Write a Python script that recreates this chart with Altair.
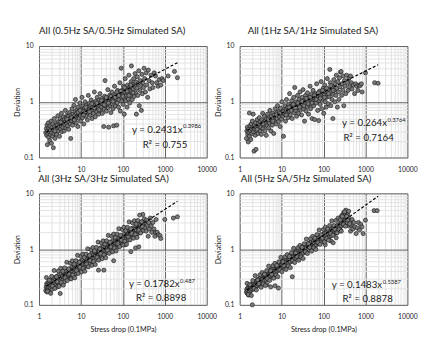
import altair as alt
import pandas as pd

FONT = "Lato"

TITLES = [
    "All (0.5Hz SA/0.5Hz Simulated SA)",
    "All (1Hz SA/1Hz Simulated SA)",
    "All (3Hz SA/3Hz Simulated SA)",
    "All (5Hz SA/5Hz Simulated SA)",
]
EQ_MAIN = ["y = 0.2431x", "y = 0.264x", "y = 0.1782x", "y = 0.1483x"]
EQ_EXP = ["0.3986", "0.3764", "0.487", "0.5387"]
R2_TEXT = ["R\u00b2 = 0.755", "R\u00b2 = 0.7164", "R\u00b2 = 0.8898", "R\u00b2 = 0.8878"]
COEF_A = [0.2431, 0.264, 0.1782, 0.1483]
COEF_B = [0.3986, 0.3764, 0.487, 0.5387]
FIT_X = [1.5, 2000]
X_TITLE = "Stress drop (0.1MPa)"
Y_TITLE = "Deviation"

# scatter readings (stress drop, deviation)
PTS_05HZ = [
    (1.45,0.28),(1.5,0.33),(1.52,0.25),(1.55,0.38),(1.58,0.17),(1.6,0.3),(1.63,0.27),(1.66,0.42),(1.7,0.23),(1.72,0.34),
    (1.75,0.29),(1.8,0.2),(1.83,0.37),(1.86,0.26),(1.9,0.31),(1.95,0.45),(1.98,0.18),(2.02,0.28),(2.06,0.35),(2.1,0.24),
    (2.15,0.4),(2.2,0.15),(2.22,0.31),(2.27,0.27),(2.32,0.5),(2.36,0.36),(2.42,0.22),(2.47,0.33),(2.52,0.29),(2.58,0.42),
    (2.63,0.26),(2.7,0.38),(2.75,0.32),(2.82,0.56),(2.88,0.3),(2.95,0.44),(3.0,0.35),(3.08,0.24),(3.15,0.4),(3.2,0.5),
    (3.28,0.33),(3.35,0.37),(3.42,0.62),(3.5,0.29),(3.58,0.46),(3.65,0.4),(3.72,0.35),(3.8,0.53),(3.9,0.42),(3.98,0.3),
    (4.05,0.48),(4.15,0.38),(4.25,0.7),(4.32,0.44),(4.4,0.34),(4.5,0.52),(4.6,0.41),(4.7,0.58),(4.8,0.37),(4.9,0.47),
    (5.0,0.55),(5.1,0.32),(5.2,0.44),(5.35,0.64),(5.45,0.5),(5.6,0.4),(5.7,0.22),(5.8,0.58),(5.95,0.46),(6.1,0.75),
    (6.2,0.53),(6.35,0.38),(6.5,0.6),(6.65,0.49),(6.8,0.86),(6.95,0.44),(7.1,0.56),(7.25,0.66),(7.4,1.1),(7.55,0.51),
    (7.7,0.42),(7.9,0.62),(8.05,0.72),(8.2,0.55),(8.4,0.36),(8.6,0.8),(8.8,0.6),(9.0,0.5),(9.2,0.68),(9.45,0.95),
    (9.65,0.57),(9.9,0.45),(10.1,0.73),(10.3,0.63),(10.6,1.2),(10.9,0.52),(11.1,0.84),(11.4,0.68),(11.7,0.4),(12.0,0.6),
    (12.3,0.77),(12.6,1.0),(12.9,0.66),(13.2,0.55),(13.6,0.88),(13.9,0.72),(14.3,0.47),(14.7,0.8),(15.0,1.3),(15.4,0.64),
    (15.8,0.93),(16.2,0.74),(16.6,0.57),(17.0,0.85),(17.5,1.08),(17.9,0.69),(18.4,0.5),(18.9,0.79),(19.4,0.97),(19.9,0.62),
    (20.4,0.88),(20.9,1.5),(21.5,0.72),(22.0,0.54),(22.6,1.02),(23.2,0.83),(23.8,0.66),(24.4,1.2),(25.0,0.92),(25.7,0.77),
    (26.4,0.6),(27.1,1.06),(27.8,0.86),(28.5,1.4),(29.2,0.7),(30.0,0.97),(30.8,0.8),(31.6,1.15),(32.4,0.62),(33.3,0.9),
    (34.2,1.03),(35.0,0.36),(35.8,0.74),(36.7,1.26),(37.6,2.4),(38.5,0.85),(39.4,1.0),(40.4,0.68),(41.5,1.12),(42.6,0.9),
    (43.7,1.65),(44.8,0.78),(45.9,0.35),(47.0,1.03),(48.2,1.3),(49.4,0.86),(50.6,1.18),(51.9,0.64),(53.2,1.0),(54.5,1.5),
    (55.9,0.92),(57.3,1.1),(58.7,0.75),(60.1,0.37),(61.6,1.26),(63.1,1.9),(64.7,1.04),(66.3,0.84),(68.0,1.38),(69.7,1.15),
    (71.4,0.38),(73.2,0.96),(75.0,1.6),(76.9,1.22),(78.8,0.8),(80.8,1.08),(82.8,1.45),(84.9,2.2),(87.0,0.68),(89.2,1.25),
    (91.4,4.0),(93.7,1.02),(96.0,1.6),(98.4,1.35),(101,0.9),(103,1.9),(106,1.18),(108,0.6),(111,1.5),(114,2.6),
    (117,1.05),(120,1.7),(123,1.3),(126,0.8),(129,2.0),(132,1.45),(135,1.12),(139,3.0),(142,1.62),(146,0.95),
    (149,1.85),(153,1.3),(157,2.3),(160,4.4),(164,1.55),(168,1.1),(172,2.05),(177,1.7),(181,2.6),(186,1.25),
    (190,1.9),(195,3.2),(200,1.45),(205,2.25),(210,0.6),(216,1.75),(222,2.8),(228,1.3),(234,2.1),(240,3.6),
    (247,0.85),(254,1.6),(261,2.4),(268,1.95),(276,0.7),(284,3.1),(292,1.4),(300,2.2),(310,1.8),(320,4.0),
    (330,2.6),(345,1.5),(360,3.3),(375,2.0),(390,1.2),(405,3.7),(420,2.4),(440,1.7),(470,3.0),(500,2.2),
    (520,1.8),(560,3.3),(600,2.9),(640,2.2),(690,1.9),(740,2.5),(800,2.0),(860,2.6),(920,2.4),(1200,2.9),
    (1700,3.5),(2000,2.7),
    (2.4,0.3),(3.3,0.43),(4.6,0.49),(6.0,0.52),(7.0,0.47),(8.5,0.65),(9.5,0.7),(11.5,0.58),(13.0,0.8),(16.0,0.66),
    (18.0,0.92),(21.0,0.78),(24.0,0.95),(27.0,0.72),(31.0,1.05),(36.0,0.88),(40.0,1.2),(45.0,0.95),(52.0,1.25),(58.0,1.02),
    (65.0,1.2),(72.0,1.5),(80.0,1.3),(90.0,1.55),(100,1.25),(110,1.8),(125,1.55),(140,1.3),(155,2.0),(175,1.45),
]
PTS_1HZ = [
    (1.45,0.22),(1.48,0.3),(1.52,0.35),(1.55,0.26),(1.6,0.19),(1.62,0.32),(1.66,0.28),(1.7,0.63),(1.72,0.24),(1.76,0.37),
    (1.8,0.3),(1.84,0.21),(1.88,0.4),(1.92,0.33),(1.96,0.27),(2.0,0.45),(2.05,0.35),(2.1,0.6),(2.14,0.29),(2.2,0.13),
    (2.24,0.38),(2.3,0.32),(2.35,0.25),(2.4,0.42),(2.45,0.14),(2.5,0.35),(2.56,0.3),(2.62,0.48),(2.68,0.37),(2.74,0.27),
    (2.8,0.41),(2.87,0.33),(2.94,0.52),(3.0,0.38),(3.07,0.3),(3.14,0.44),(3.22,0.35),(3.3,0.26),(3.38,0.47),(3.46,0.4),
    (3.54,0.62),(3.62,0.33),(3.7,0.43),(3.8,0.38),(3.9,0.55),(4.0,0.3),(4.1,0.46),(4.2,0.41),(4.3,0.25),(4.4,0.5),
    (4.52,0.37),(4.64,0.6),(4.76,0.44),(4.88,0.34),(5.0,0.52),(5.13,0.42),(5.26,0.7),(5.4,0.47),(5.55,0.3),(5.7,0.56),
    (5.85,0.45),(6.0,0.38),(6.15,0.62),(6.3,0.5),(6.48,0.27),(6.65,0.58),(6.82,0.46),(7.0,0.75),(7.2,0.53),(7.4,0.4),
    (7.6,0.64),(7.8,0.5),(8.0,0.85),(8.2,0.58),(8.45,0.44),(8.7,0.68),(8.95,0.54),(9.2,0.36),(9.45,0.76),(9.7,0.6),
    (9.95,0.49),(10.2,1.0),(10.5,0.66),(10.8,0.55),(11.1,0.24),(11.4,0.72),(11.7,0.6),(12.0,0.85),(12.4,0.45),(12.7,0.7),
    (13.1,1.1),(13.5,0.62),(13.9,0.78),(14.3,0.52),(14.7,0.9),(15.1,0.68),(15.5,1.4),(16.0,0.58),(16.4,0.82),(16.9,0.72),
    (17.4,1.05),(17.9,0.5),(18.4,0.88),(18.9,0.76),(19.4,1.2),(19.9,0.63),(20.5,1.8),(21.0,0.84),(21.6,0.7),(22.2,1.0),
    (22.8,0.55),(23.4,0.9),(24.0,1.3),(24.7,0.77),(25.4,0.62),(26.1,1.1),(26.8,0.86),(27.5,1.5),(28.3,0.72),(29.1,0.98),
    (29.9,0.58),(30.7,1.2),(31.6,0.88),(32.5,1.65),(33.4,0.74),(34.3,1.05),(35.2,0.45),(36.2,0.92),(37.2,1.3),(38.2,0.68),
    (39.3,1.1),(40.4,0.82),(41.5,1.45),(42.7,1.0),(43.9,0.6),(45.1,1.2),(46.4,0.9),(47.7,1.9),(49.0,0.75),(50.4,1.1),
    (51.8,1.35),(53.3,0.5),(54.8,1.0),(56.3,1.6),(57.9,0.84),(59.5,1.2),(61.2,0.48),(62.9,1.05),(64.7,1.4),(66.5,0.95),
    (68.4,2.1),(70.3,1.15),(72.3,0.7),(74.3,1.3),(76.4,0.46),(78.5,1.05),(80.7,1.55),(83.0,0.9),(85.3,1.25),(87.7,2.3),
    (90.2,0.75),(92.7,1.4),(95.3,1.1),(98.0,1.75),(101,0.62),(104,1.3),(107,2.0),(110,1.0),(113,1.55),(116,0.8),
    (119,1.2),(123,2.6),(126,1.45),(130,0.92),(133,1.7),(137,1.25),(141,3.8),(145,2.2),(149,0.85),(153,1.5),
    (158,1.1),(162,1.9),(167,0.5),(171,1.35),(176,2.5),(181,1.6),(186,1.0),(191,2.1),(197,1.3),(202,3.0),
    (208,1.75),(214,0.8),(220,2.3),(226,1.5),(233,1.1),(240,2.7),(247,1.85),(254,3.4),(262,3.5),(270,1.3),
    (278,2.1),(287,1.6),(296,2.9),(305,0.85),(315,2.4),(325,1.9),(340,1.4),(355,3.0),(370,2.2),(385,1.6),
    (400,2.6),(420,1.85),(440,2.9),(460,2.2),(480,1.7),(510,2.0),(550,1.4),(580,2.1),(620,1.9),(660,1.6),
    (700,2.0),(750,1.95),(800,2.1),(830,1.5),(1000,3.3),(1650,2.2),(2000,2.15),
    (2.6,0.32),(3.6,0.4),(4.8,0.48),(6.2,0.45),(7.5,0.58),(9.0,0.62),(11.0,0.66),(12.8,0.58),(15.0,0.8),(17.0,0.7),
    (19.0,0.9),(21.5,0.78),(24.5,0.95),(27.0,0.8),(30.5,1.02),(34.0,0.85),(38.5,1.15),(43.0,0.92),(48.0,1.2),(53.0,0.95),
    (60.0,1.3),(67.0,1.1),(75.0,1.45),(84.0,1.15),(94.0,1.6),(105,1.2),(118,1.75),(132,1.4),(150,1.95),(170,1.6),
]
PTS_3HZ = [
    (1.45,0.18),(1.48,0.21),(1.52,0.24),(1.55,0.17),(1.58,0.2),(1.62,0.23),(1.65,0.19),(1.68,0.26),(1.72,0.21),(1.76,0.18),
    (1.8,0.24),(1.84,0.22),(1.88,0.28),(1.92,0.2),(1.96,0.25),(2.0,0.23),(2.05,0.19),(2.1,0.27),(2.15,0.24),(2.2,0.21),
    (2.26,0.3),(2.32,0.25),(2.38,0.22),(2.44,0.28),(2.5,0.24),(2.56,0.32),(2.62,0.26),(2.68,0.21),(2.75,0.29),(2.82,0.25),
    (2.9,0.34),(2.98,0.28),(3.06,0.23),(3.14,0.31),(3.2,0.16),(3.25,0.27),(3.35,0.36),(3.45,0.3),(3.55,0.25),(3.65,0.33),
    (3.75,0.29),(3.85,0.38),(3.95,0.31),(4.05,0.26),(4.15,0.35),(4.3,0.31),(4.45,0.41),(4.6,0.34),(4.75,0.29),(4.9,0.38),
    (5.05,0.34),(5.2,0.44),(5.35,0.37),(5.5,0.3),(5.65,0.41),(5.8,0.3),(5.95,0.36),(6.1,0.47),(6.3,0.4),(6.5,0.34),
    (6.7,0.45),(6.9,0.39),(7.1,0.5),(7.3,0.42),(7.5,0.36),(7.7,0.47),(7.95,0.41),(8.2,0.55),(8.45,0.46),(8.7,0.39),
    (8.95,0.52),(9.2,0.45),(9.5,0.6),(9.8,0.5),(10.1,0.43),(10.4,0.57),(10.7,0.5),(11.0,0.64),(11.4,0.53),(11.8,0.46),
    (12.2,0.6),(12.6,0.52),(13.0,0.7),(13.4,0.58),(13.8,0.5),(14.3,0.66),(14.8,0.58),(15.3,0.76),(15.8,0.64),(16.3,0.55),
    (16.8,0.72),(17.4,0.62),(18.0,0.84),(18.6,0.7),(19.2,0.6),(19.8,0.78),(20.5,0.68),(21.2,0.9),(21.9,0.76),(22.6,0.65),
    (23.4,0.85),(24.2,0.74),(25.0,0.98),(25.8,0.82),(26.2,0.42),(26.7,0.71),(27.6,0.92),(28.5,0.8),(29.5,1.06),(30.5,0.88),
    (31.5,0.76),(32.5,0.99),(33.6,0.86),(34.7,1.13),(35.2,0.42),(35.9,0.95),(37.1,0.82),(38.3,1.06),(39.6,0.92),(40.9,1.22),
    (42.3,1.03),(43.7,0.88),(45.1,1.15),(46.6,1.0),(48.1,1.3),(49.7,1.1),(51.3,0.94),(53.0,1.23),(54.7,1.06),(56.5,1.4),
    (58.4,1.18),(60.3,0.62),(62.3,1.3),(64.3,1.12),(66.4,1.48),(68.6,1.25),(70.8,1.07),(73.1,1.4),(75.5,1.2),(78.0,1.58),
    (80.5,1.33),(83.0,1.14),(85.7,1.5),(88.5,1.3),(91.4,1.7),(94.4,1.45),(97.4,1.24),(100.6,1.62),(104,1.4),(107,1.85),
    (111,1.55),(114,1.2),(118,1.75),(122,1.5),(126,2.05),(130,1.7),(134,1.45),(139,1.92),(143,1.65),(148,2.2),
    (153,1.85),(155,0.9),(158,1.6),(163,2.08),(168,1.78),(174,2.4),(180,2.0),(186,1.7),(192,2.25),(198,1.95),
    (200,1.05),(205,2.6),(212,2.2),(219,1.85),(226,2.45),(233,2.1),(240,1.1),(241,2.85),(249,2.35),(257,2.0),
    (266,2.7),(275,2.3),(284,3.1),(293,2.55),(300,4.2),(303,2.15),(313,2.9),(324,3.5),(335,2.45),(346,3.0),
    (358,2.1),(370,3.3),(385,2.7),(400,1.7),(415,3.0),(430,2.3),(450,3.6),(470,2.6),(490,2.0),(520,3.0),
    (550,2.3),(580,1.7),(600,2.0),(620,3.4),(660,2.0),(700,1.8),(770,1.75),(800,1.55),(1000,3.4),(1600,3.6),
    (2000,3.8),
    (1.5,0.31),(1.6,0.175),(1.75,0.276),(1.9,0.161),(2.0,0.325),(2.1,0.218),(2.3,0.414),(2.4,0.197),(2.6,0.318),(2.7,0.26),
    (2.9,0.407),(3.0,0.214),(3.3,0.453),(3.4,0.253),(3.7,0.399),(3.8,0.226),(4.1,0.462),(4.2,0.305),(4.6,0.581),(4.7,0.273),
    (5.1,0.441),(5.2,0.358),(5.6,0.56),(5.8,0.293),(6.2,0.615),(6.4,0.343),(6.9,0.538),(7.1,0.305),(7.6,0.621),(7.8,0.411),
    (8.3,0.775),(8.6,0.366),(9.1,0.582),(9.4,0.477),(10.0,0.744),(10.3,0.389),(11.0,0.814),(11.3,0.452),(12.0,0.708),(12.4,0.401),
    (13.2,0.814),(13.6,0.541),(14.5,1.015),(15.0,0.48),(16.0,0.771),(16.5,0.628),(17.6,0.979),(18.2,0.512),(19.3,1.069),(20.0,0.597),
    (21.2,0.93),(22.0,0.529),(23.3,1.073),(24.2,0.714),(25.6,1.338),(26.6,0.634),(28.2,1.014),(29.3,0.83),(31.0,1.289),(32.2,0.676),
    (34.0,1.409),(35.5,0.79),(37.5,1.227),(39.0,0.7),(41.0,1.413),(43.0,0.946),(45.0,1.764),(47.3,0.84),(49.5,1.335),(52.0,1.098),
    (54.5,1.7),(57.0,0.894),(60.0,1.86),(62.7,1.044),(66.0,1.619),(69.0,0.926),(72.5,1.869),(76.0,1.251),(80.0,2.325),(83.5,1.109),
    (88.0,1.77),(92.0,1.454),(97.0,2.254),(101,1.183),(106,2.457),(111,1.381),(117,2.142),(122,1.221),(128,2.464),(134,1.649),
    (141,3.085),(148,1.462),(155,2.33),(163,1.917),(170,2.965),(180,1.568),(188,3.238),(198,1.825),(207,2.82),(218,1.617),
    (228,3.263),(240,2.185),(251,4.077),(265,1.944),(280,3.102),(290,2.538),
]
PTS_5HZ = [
    (1.45,0.17),(1.48,0.19),(1.52,0.16),(1.55,0.2),(1.58,0.18),(1.62,0.15),(1.65,0.21),(1.68,0.19),(1.72,0.17),(1.76,0.22),
    (1.8,0.2),(1.84,0.18),(1.88,0.23),(1.92,0.21),(1.96,0.19),(2.0,0.1),(2.02,0.24),(2.06,0.21),(2.1,0.19),(2.15,0.25),
    (2.2,0.22),(2.26,0.2),(2.32,0.26),(2.38,0.23),(2.44,0.21),(2.5,0.27),(2.56,0.24),(2.62,0.22),(2.68,0.28),(2.75,0.25),
    (2.82,0.23),(2.9,0.29),(2.98,0.26),(3.06,0.24),(3.14,0.31),(3.22,0.27),(3.3,0.25),(3.4,0.32),(3.5,0.29),(3.6,0.26),
    (3.7,0.34),(3.8,0.3),(3.9,0.27),(4.0,0.35),(4.12,0.31),(4.25,0.28),(4.38,0.37),(4.5,0.23),(4.52,0.33),(4.66,0.3),
    (4.8,0.39),(4.95,0.34),(5.1,0.31),(5.25,0.41),(5.4,0.36),(5.5,0.21),(5.55,0.33),(5.7,0.43),(5.85,0.38),(6.0,0.34),
    (6.2,0.45),(6.4,0.4),(6.6,0.36),(6.8,0.47),(7.0,0.22),(7.05,0.42),(7.2,0.38),(7.4,0.5),(7.6,0.44),(7.8,0.4),
    (8.0,0.52),(8.2,0.46),(8.4,0.2),(8.45,0.42),(8.7,0.55),(8.95,0.49),(9.2,0.44),(9.5,0.58),(9.8,0.52),(10.1,0.46),
    (10.4,0.6),(10.7,0.54),(11.0,0.48),(11.4,0.63),(11.8,0.56),(12.2,0.5),(12.6,0.66),(13.0,0.59),(13.4,0.53),(13.8,0.7),
    (14.3,0.62),(14.8,0.56),(15.3,0.74),(15.8,0.66),(16.3,0.59),(16.9,0.78),(17.5,0.69),(18.0,0.32),(18.1,0.62),(18.7,0.82),
    (19.3,0.73),(19.9,0.66),(20.6,0.87),(21.3,0.77),(22.0,0.69),(22.8,0.91),(23.6,0.81),(24.4,0.73),(25.2,0.96),(26.1,0.86),
    (27.0,0.77),(27.9,1.01),(28.9,0.9),(29.9,0.8),(30.9,1.06),(32.0,0.95),(33.1,0.85),(34.2,1.12),(35.4,1.0),(36.6,0.89),
    (37.9,1.17),(39.2,1.05),(40.5,0.93),(41.9,1.23),(43.3,1.1),(44.8,0.98),(46.4,1.3),(48.0,1.16),(49.6,1.03),(51.3,1.36),
    (53.1,1.22),(54.9,1.08),(56.8,1.43),(58.8,1.28),(60.8,1.13),(62.9,1.5),(65.0,1.34),(67.3,1.19),(69.6,1.57),(72.0,1.4),
    (74.5,1.25),(77.0,1.65),(79.7,1.47),(82.4,1.31),(85.3,1.73),(88.2,1.54),(91.2,1.37),(94.4,1.81),(97.6,1.61),(101,1.44),
    (104,1.9),(108,1.69),(110,1.2),(112,1.5),(116,1.99),(120,1.77),(124,1.58),(128,2.09),(132,1.86),(137,1.65),
    (141,2.19),(146,1.95),(150,1.4),(151,1.73),(156,2.3),(162,2.05),(167,1.82),(170,1.3),(173,2.42),(179,2.15),
    (185,1.91),(191,2.54),(198,2.26),(200,1.6),(205,2.0),(212,2.66),(219,2.37),(227,2.1),(235,2.8),(243,2.49),
    (250,3.5),(251,2.2),(260,2.94),(269,2.61),(270,4.0),(278,3.4),(288,3.08),(298,2.74),(300,4.5),(308,3.9),
    (319,3.23),(320,4.6),(330,2.87),(340,5.0),(342,4.3),(354,3.39),(366,3.0),(379,4.1),(392,3.55),(406,2.6),
    (420,3.2),(440,2.1),(460,2.7),(480,3.4),(500,2.3),(530,3.0),(560,2.5),(600,1.9),(640,2.4),(680,3.0),
    (720,2.2),(770,2.8),(820,2.5),(880,1.9),(1000,3.3),(1600,4.9),(1900,4.9),
    (1.5,0.243),(1.6,0.153),(1.75,0.231),(1.9,0.147),(2.05,0.273),(2.2,0.197),(2.35,0.334),(2.5,0.185),(2.7,0.279),(2.85,0.24),
    (3.05,0.346),(3.25,0.207),(3.45,0.381),(3.65,0.238),(3.9,0.355),(4.1,0.222),(4.4,0.412),(4.6,0.294),(4.9,0.496),(5.2,0.274),
    (5.5,0.409),(5.8,0.352),(6.2,0.507),(6.5,0.301),(6.9,0.554),(7.3,0.346),(7.7,0.512),(8.1,0.32),(8.6,0.591),(9.1,0.424),
    (9.6,0.712),(10.2,0.394),(10.8,0.588),(11.4,0.506),(12.1,0.727),(12.8,0.433),(13.6,0.799),(14.4,0.499),(15.3,0.741),(16.2,0.465),
    (17.2,0.859),(18.2,0.616),(19.3,1.037),(20.5,0.574),(21.7,0.856),(23.0,0.739),(24.4,1.061),(25.8,0.632),(27.4,1.165),(29.0,0.728),
    (30.8,1.081),(32.6,0.678),(34.6,1.251),(36.7,0.899),(38.9,1.514),(41.2,0.835),(43.7,1.248),(46.3,1.077),(49.1,1.547),(52.0,0.922),
    (55.1,1.697),(58.4,1.061),(62.0,1.576),(65.7,0.989),(69.6,1.823),(73.8,1.309),(78.2,2.205),(82.9,1.217),(87.9,1.819),(93.2,1.57),
    (98.8,2.253),(105,1.347),(111,2.475),(118,1.55),(125,2.299),(132,1.441),(140,2.656),(148,1.904),(157,3.209),(167,1.775),
    (177,2.651),(187,2.284),(198,3.278),(210,1.956),(223,3.604),(236,2.252),(250,3.34),(265,2.097),(281,3.865),(298,2.776),
    (316,4.677),(335,2.583),(355,3.857),(376,3.328),(398,4.774),(420,2.842),
]
PANEL_POINTS = [PTS_05HZ, PTS_1HZ, PTS_3HZ, PTS_5HZ]

X_MAJOR = [1, 10, 100, 1000, 10000]
Y_MAJOR = [0.1, 1, 10]
X_TICKS = [m * 10 ** e for e in range(4) for m in range(1, 10)] + [10000]
Y_TICKS = [round(m * 10.0 ** e, 6) for e in (-1, 0) for m in range(1, 10)] + [10]

MAJOR_GRID = "#606060"
MINOR_GRID = "#e2e2e2"
TEXT_COLOR = "#1a1a1a"

# annotation placement inside each panel (pixels from plot top-left)
EQ_POS = [(148, 87), (152, 80), (145, 94), (147, 95)]
R2_POS = [(130, 102), (133, 95), (126, 108), (132, 109)]
TITLE_DX = [-11, -11, -20, -18]

PW, PH = 173, 115


def test_of(values):
    return "indexof(" + str(values) + ", datum.value) >= 0"


def x_axis(show_title):
    kw = dict(
        values=X_TICKS, format="~g",
        labelExpr=test_of(X_MAJOR) + " ? datum.label : ''",
        grid=True,
        gridColor=alt.condition(test_of(X_MAJOR), alt.value(MAJOR_GRID), alt.value(MINOR_GRID)),
        gridWidth=1, ticks=False, domain=False,
        labelFont=FONT, labelFontSize=7, labelColor=TEXT_COLOR, labelPadding=8,
        labelFlush=False, labelOverlap=False,
    )
    if show_title:
        kw.update(title=X_TITLE, titleFont=FONT, titleFontSize=7.5, titleFontWeight="normal",
                  titleColor=TEXT_COLOR, titlePadding=6)
    else:
        kw.update(title="")
    return alt.Axis(**kw)


def y_axis():
    return alt.Axis(
        values=Y_TICKS, format="~g",
        labelExpr=test_of(Y_MAJOR) + " ? datum.label : ''",
        grid=True,
        gridColor=alt.condition(test_of(Y_MAJOR), alt.value(MAJOR_GRID), alt.value(MINOR_GRID)),
        gridWidth=1, ticks=False, domain=False,
        labelFont=FONT, labelFontSize=7, labelColor=TEXT_COLOR, labelPadding=6,
        labelFlush=False, labelOverlap=False,
        title=Y_TITLE, titleFont=FONT, titleFontSize=7, titleFontWeight="normal",
        titleColor=TEXT_COLOR, titlePadding=3,
    )


def panel(i):
    df = pd.DataFrame(PANEL_POINTS[i], columns=["x", "y"])
    xenc = alt.X("x:Q", scale=alt.Scale(type="log", domain=[1, 10000]), axis=x_axis(i >= 2))
    yenc = alt.Y("y:Q", scale=alt.Scale(type="log", domain=[0.1, 10]), axis=y_axis())

    pts = alt.Chart(df).mark_circle(
        size=18, fill="#7a7a7a", stroke="#181818", strokeWidth=0.65, opacity=1
    ).encode(x=xenc, y=yenc)

    fit = pd.DataFrame({"x": FIT_X, "y": [COEF_A[i] * v ** COEF_B[i] for v in FIT_X]})
    line = alt.Chart(fit).mark_line(
        color="#000000", strokeWidth=1.2, strokeDash=[3, 2]
    ).encode(x=xenc, y=yenc)

    ex, ey = EQ_POS[i]
    rx, ry = R2_POS[i]
    eq = alt.Chart(pd.DataFrame({"t": [EQ_MAIN[i]]})).mark_text(
        align="right", baseline="middle", font=FONT, fontSize=10, color=TEXT_COLOR
    ).encode(text="t:N", x=alt.value(ex), y=alt.value(ey))
    sup = alt.Chart(pd.DataFrame({"t": [EQ_EXP[i]]})).mark_text(
        align="left", baseline="middle", font=FONT, fontSize=6, color=TEXT_COLOR
    ).encode(text="t:N", x=alt.value(ex + 0.5), y=alt.value(ey - 4))
    r2 = alt.Chart(pd.DataFrame({"t": [R2_TEXT[i]]})).mark_text(
        align="center", baseline="middle", font=FONT, fontSize=10, color=TEXT_COLOR
    ).encode(text="t:N", x=alt.value(rx), y=alt.value(ry))

    return alt.layer(pts, line, eq, sup, r2).properties(
        width=PW, height=PH,
        title=alt.TitleParams(
            TITLES[i], font=FONT, fontSize=10, fontWeight="normal", color=TEXT_COLOR,
            anchor="middle", frame="group", dx=TITLE_DX[i], offset=6,
        ),
    )


chart = alt.concat(
    panel(0), panel(1), panel(2), panel(3),
    columns=2, spacing={"row": 37, "column": 34}, bounds="flush",
).properties(
    padding={"left": 5, "top": 13, "right": 2, "bottom": 2}
).configure_view(stroke="#8a8a8a", strokeWidth=1).configure(background="white")

chart.save("out.html", embed_options={"renderer": "svg", "actions": False})
